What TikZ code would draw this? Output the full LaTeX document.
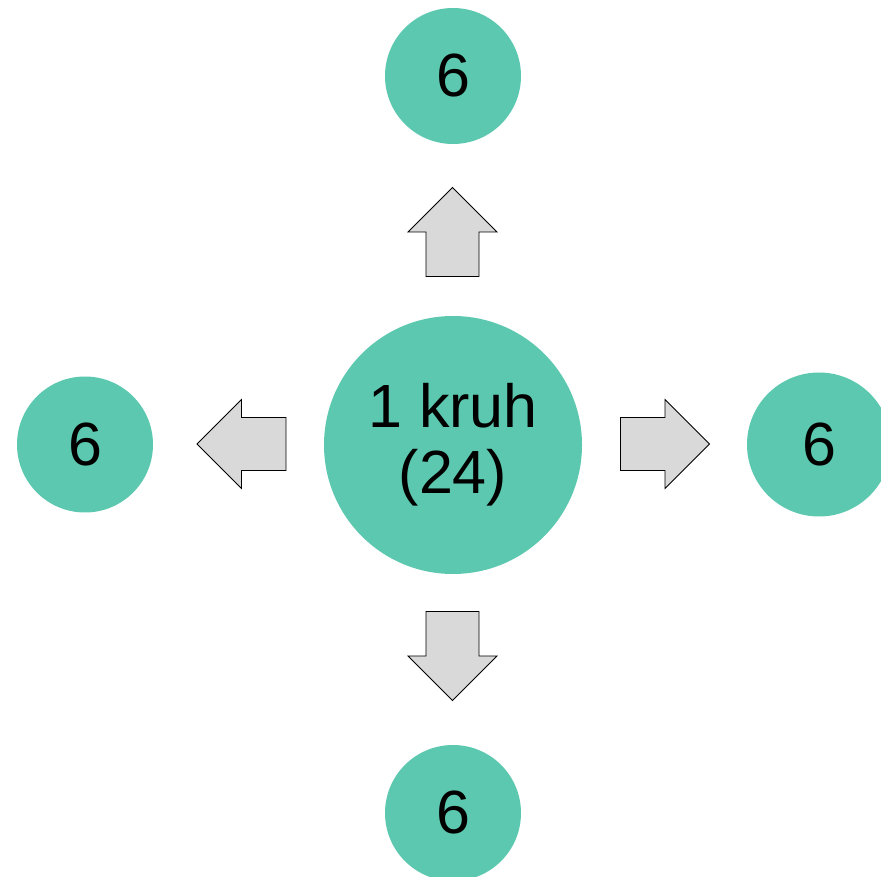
\documentclass[tikz,border=0pt]{standalone}
\usepackage{fontspec}
\setmainfont{Liberation Sans}
\definecolor{tealc}{RGB}{91,200,175}
\definecolor{arrowgray}{RGB}{217,217,217}
\newcommand{\blockarrow}[3]{% #1 name, #2 position, #3 rotation
  \draw[arrowshape, shift={#2}, rotate=#3] (-44.5,-26.5) -- (0,-26.5) -- (0,-44.5) -- (44.5,0) -- (0,44.5) -- (0,26.5) -- (-44.5,26.5) -- cycle;
  \coordinate (#1) at #2;}
\begin{document}
\begin{tikzpicture}[x=1pt,y=1pt,
  disc/.style={circle, fill=tealc, draw=none, inner sep=0pt, minimum size=#1, font=\fontsize{61}{66}\selectfont, align=center},
  arrowshape/.style={fill=arrowgray, draw=black, line width=0.8pt, line join=miter}]
\useasboundingbox (0,0) rectangle (881,876);
\clip (0,0) rectangle (881,876);
\node[disc=258pt] (c) at (453,431) {1 kruh\\(24)};
\node[disc=136pt] (t) at (453,800) {6};
\node[disc=136pt] (b) at (453,63) {6};
\node[disc=136pt] (l) at (85,431.5) {6};
\node[disc=144pt] (r) at (819,431.5) {6};
\blockarrow{au}{(452.5,644)}{90}
\blockarrow{ad}{(452.5,220)}{-90}
\blockarrow{al}{(241.5,432)}{180}
\blockarrow{ar}{(665,432)}{0}
\end{tikzpicture}
\end{document}
